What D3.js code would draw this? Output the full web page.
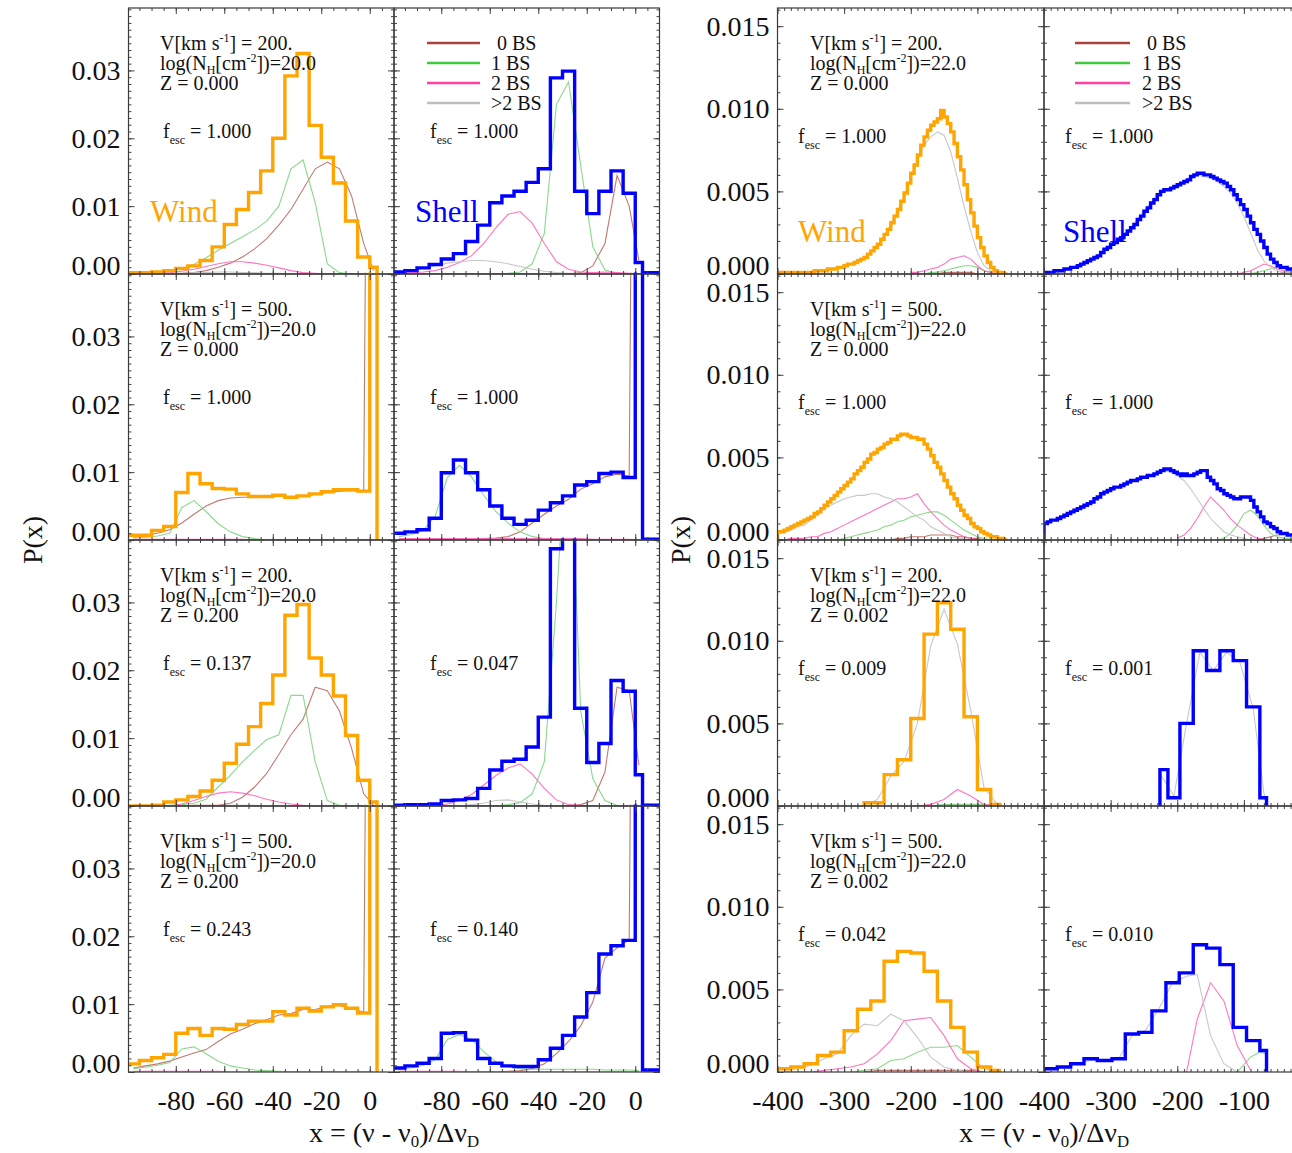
<!DOCTYPE html>
<html>
<head>
<meta charset="utf-8">
<script src="https://cdn.jsdelivr.net/npm/d3@7"></script>
<style>
html, body { margin: 0; padding: 0; background: #fff; }
svg { display: block; font-family: "Liberation Serif", "Times New Roman", serif; }
text { white-space: pre; }
</style>
</head>
<body>
<svg id="chart" width="1292" height="1153"></svg>
<script>
// ---------- bin grids ----------
// left block (log N_H = 20): 5-unit bins, last narrow bin holds the line-centre peak
const leftEdges = [-100,-95,-90,-85,-80,-75,-70,-65,-60,-55,-50,-45,-40,-35,-30,-25,-20,-15,-10,-5,0,3,10];
const leftCentres = [-97.5,-92.5,-87.5,-82.5,-77.5,-72.5,-67.5,-62.5,-57.5,-52.5,-47.5,-42.5,-37.5,-32.5,-27.5,-22.5,-17.5,-12.5,-7.5,-2.5,1.5];
// right block (log N_H = 22), fine binning for the Z = 0 runs
const fineEdges = d3.range(-400, 1, 5);
const fineX = d3.range(-400, 1, 10);

// ---------- row A: V=200, logN=20, Z=0 ----------
const windA = [0.0002,0.0002,0.0003,0.0005,0.0008,0.0012,0.0020,0.0040,0.0073,0.0095,0.0120,0.0152,0.0200,0.0292,0.0325,0.0219,0.0172,0.0134,0.0078,0.0025,0.0010];
const windA_bs0 = [0,0,0,0,0.0001,0.0002,0.0005,0.0010,0.0016,0.0025,0.0037,0.0052,0.0072,0.0095,0.0125,0.0155,0.0165,0.0155,0.0115,0.0045,0.0005];
const windA_bs1 = [0,0.0001,0.0002,0.0004,0.0008,0.0014,0.0024,0.0035,0.0045,0.0055,0.0065,0.0078,0.0100,0.0155,0.0168,0.0105,0.0015,0.0002,0,0,0];
const windA_bs2 = [0,0,0.0001,0.0002,0.0004,0.0007,0.0011,0.0015,0.0018,0.0018,0.0016,0.0013,0.0009,0.0005,0.0002,0.0001,0,0,0,0,0];
const windA_bs3 = [0,0,0,0.0001,0.0001,0.0002,0.0002,0.0003,0.0003,0.0002,0.0002,0.0001,0.0001,0,0,0,0,0,0,0,0];
const shellA = [0.0003,0.0005,0.0009,0.0014,0.0022,0.0030,0.0048,0.0072,0.0105,0.0115,0.0122,0.0135,0.0155,0.0289,0.0299,0.0122,0.0089,0.0122,0.0152,0.0119,0.0017,0.0002];
const shellA_bs0 = [0,0,0,0,0,0,0,0,0,0,0,0,0,0,0,0.0002,0.0012,0.0045,0.0145,0.0100,0.0020];
const shellA_bs1 = [0,0,0,0,0,0,0,0,0,0.0001,0.0003,0.0015,0.0060,0.0250,0.0283,0.0160,0.0040,0.0006,0.0001,0,0];
const shellA_bs2 = [0.0001,0.0002,0.0003,0.0005,0.0010,0.0017,0.0027,0.0045,0.0068,0.0088,0.0092,0.0075,0.0045,0.0018,0.0007,0.0003,0.0002,0.0003,0.0002,0.0001,0];
const shellA_bs3 = [0.0003,0.0005,0.0008,0.0012,0.0016,0.0018,0.0020,0.0020,0.0018,0.0015,0.0011,0.0007,0.0004,0.0002,0.0001,0.0001,0,0,0,0,0];

// ---------- row B: V=500, logN=20, Z=0 ----------
const windB = [0.0007,0.0007,0.0014,0.0020,0.0070,0.0098,0.0083,0.0076,0.0075,0.0068,0.0064,0.0064,0.0066,0.0063,0.0065,0.0068,0.0071,0.0074,0.0074,0.0072,0.2000];
const windB_bs0 = [0.0004,0.0007,0.0010,0.0015,0.0025,0.0038,0.0050,0.0058,0.0062,0.0063,0.0063,0.0063,0.0065,0.0063,0.0065,0.0067,0.0070,0.0072,0.0073,0.0071,0.2000];
const windB_bs1 = [0.0003,0.0004,0.0006,0.0010,0.0048,0.0058,0.0042,0.0024,0.0012,0.0005,0.0002,0,0,0,0,0,0,0,0,0,0];
const windB_bs2 = [0.0001,0.0001,0.0001,0.0001,0.0001,0.0001,0.0001,0.0001,0.0001,0.0001,0,0,0,0,0,0,0,0,0,0,0];
const windB_bs3 = [0,0,0,0,0,0,0,0,0,0,0,0,0,0,0,0,0,0,0,0,0];
const shellB = [0.0010,0.0012,0.0015,0.0032,0.0099,0.0118,0.0099,0.0074,0.0050,0.0032,0.0023,0.0029,0.0044,0.0055,0.0065,0.0081,0.0086,0.0098,0.0100,0.0092,0.2000,0.0001];
const shellB_bs0 = [0.0001,0.0001,0.0001,0.0001,0.0001,0.0001,0.0001,0.0002,0.0003,0.0005,0.0012,0.0025,0.0038,0.0050,0.0060,0.0075,0.0083,0.0093,0.0097,0.0094,0.2000];
const shellB_bs1 = [0.0005,0.0008,0.0014,0.0035,0.0092,0.0110,0.0093,0.0066,0.0042,0.0025,0.0012,0.0005,0.0002,0.0001,0,0,0,0,0,0,0];
const shellB_bs2 = [0.0002,0.0002,0.0002,0.0002,0.0002,0.0002,0.0002,0.0002,0.0002,0.0002,0.0002,0.0002,0.0002,0.0002,0.0002,0.0002,0.0001,0.0001,0.0001,0.0001,0];
const shellB_bs3 = [0,0,0,0,0,0,0,0,0,0,0,0,0,0,0,0,0,0,0,0,0];

// ---------- row C: V=200, logN=20, Z=0.2 ----------
const windC = [0,0,0.0001,0.0006,0.0009,0.0014,0.0022,0.0038,0.0063,0.0091,0.0117,0.0151,0.0193,0.0281,0.0297,0.0218,0.0193,0.0162,0.0104,0.0038,0.0006];
const windC_bs0 = [0,0,0,0,0,0.0001,0.0001,0.0001,0.0004,0.0013,0.0028,0.0048,0.0076,0.0105,0.0128,0.0175,0.0170,0.0140,0.0085,0.0018,0.0001];
const windC_bs1 = [0,0,0,0.0001,0.0002,0.0004,0.0010,0.0028,0.0045,0.0065,0.0082,0.0098,0.0105,0.0163,0.0163,0.0065,0.0008,0.0001,0,0,0];
const windC_bs2 = [0,0,0,0,0.0003,0.0008,0.0014,0.0019,0.0021,0.0019,0.0015,0.0010,0.0006,0.0003,0.0001,0,0,0,0,0,0];
const windC_bs3 = [0,0,0,0,0,0,0,0,0.0001,0.0001,0.0001,0,0,0,0,0,0,0,0,0,0];
const shellC = [0.0001,0.0002,0.0002,0.0003,0.0008,0.0009,0.0011,0.0026,0.0053,0.0066,0.0069,0.0087,0.0131,0.0379,0.0600,0.0144,0.0064,0.0092,0.0185,0.0169,0.0046,0.0001];
const shellC_bs0 = [0,0,0,0,0,0,0,0,0,0,0,0,0,0,0,0.0002,0.0008,0.0050,0.0175,0.0170,0.0060];
const shellC_bs1 = [0,0,0,0,0,0,0,0,0,0.0002,0.0005,0.0018,0.0065,0.0300,0.0600,0.0140,0.0040,0.0008,0.0001,0,0];
const shellC_bs2 = [0,0,0,0,0.0003,0.0008,0.0017,0.0031,0.0045,0.0056,0.0062,0.0047,0.0026,0.0009,0.0002,0.0001,0,0,0,0,0];
const shellC_bs3 = [0,0,0,0,0,0,0.0002,0.0004,0.0008,0.0009,0.0006,0.0003,0.0001,0,0,0,0,0,0,0,0];

// ---------- row D: V=500, logN=20, Z=0.2 ----------
const windD = [0.0012,0.0017,0.0021,0.0026,0.0057,0.0064,0.0054,0.0064,0.0063,0.0070,0.0075,0.0075,0.0089,0.0084,0.0094,0.0090,0.0096,0.0099,0.0094,0.0087,0.2000];
const windD_bs0 = [0.0006,0.0009,0.0012,0.0016,0.0022,0.0028,0.0033,0.0045,0.0056,0.0063,0.0071,0.0077,0.0084,0.0086,0.0092,0.0092,0.0097,0.0098,0.0094,0.0088,0.2000];
const windD_bs1 = [0.0005,0.0007,0.0010,0.0014,0.0034,0.0037,0.0027,0.0016,0.0009,0.0006,0.0003,0.0002,0.0001,0,0,0,0,0,0,0,0];
const windD_bs2 = [0.0001,0.0001,0.0001,0.0001,0.0001,0.0001,0.0001,0.0001,0,0,0,0,0,0,0,0,0,0,0,0,0];
const windD_bs3 = [0,0,0,0,0,0,0,0,0,0,0,0,0,0,0,0,0,0,0,0,0];
const shellD = [0.0006,0.0009,0.0013,0.0020,0.0057,0.0058,0.0047,0.0020,0.0013,0.0009,0.0008,0.0008,0.0018,0.0035,0.0054,0.0081,0.0117,0.0174,0.0186,0.0194,0.2000,0.0003];
const shellD_bs0 = [0,0,0,0,0,0,0,0,0,0.0001,0.0002,0.0005,0.0012,0.0027,0.0045,0.0068,0.0103,0.0168,0.0183,0.0195,0.2000];
const shellD_bs1 = [0.0004,0.0006,0.0010,0.0018,0.0048,0.0055,0.0048,0.0030,0.0015,0.0008,0.0005,0.0004,0.0004,0.0004,0.0004,0.0004,0.0004,0.0003,0.0003,0.0003,0.0002];
const shellD_bs2 = [0.0001,0.0001,0.0001,0.0001,0.0001,0.0001,0,0,0,0,0,0,0,0,0,0,0,0,0,0,0];
const shellD_bs3 = [0,0,0,0,0,0,0,0,0,0,0,0,0,0,0,0,0,0,0,0,0];

// ---------- row E: V=200, logN=22, Z=0 ----------
const windE = [0.0001,0.0001,0.0001,0.0001,0.0001,0.0001,0.0001,0.0001,0.0001,0.0001,0.0001,
  0.0002,0.0002,0.0002,0.0002,0.0003,0.0003,0.0003,0.0004,0.0004,
  0.0005,0.0006,0.0006,0.0007,0.0008,0.0009,0.0010,0.0012,0.0014,0.0016,
  0.0018,0.0021,0.0024,0.0027,0.0031,0.0035,0.0039,0.0044,0.0049,0.0055,
  0.0061,0.0066,0.0072,0.0078,0.0083,0.0087,0.0090,0.0092,0.0094,0.0099,
  0.0095,0.0091,0.0086,0.0079,0.0071,0.0063,0.0054,0.0045,0.0037,0.0029,
  0.0022,0.0016,0.0011,0.0007,0.0004,0.0002,0.0001,0.0001,0.0000];
const windE_bs3 = [0.0001,0.0001,0.0001,0.0001,0.0001,0.0001,0.0002,0.0002,0.0003,0.0004,
  0.0005,0.0006,0.0008,0.0010,0.0013,0.0017,0.0023,0.0030,0.0038,0.0047,
  0.0058,0.0069,0.0078,0.0083,0.0086,0.0084,0.0074,0.0058,0.0041,0.0026,
  0.0013,0.0005,0.0002,0.0001,null,null,null,null,null,null,null];
const windE_bs2 = [null,null,null,null,null,null,null,null,null,null,
  null,null,null,null,null,null,null,null,null,null,
  0.0001,0.0001,0.0002,0.0003,0.0004,0.0006,0.0009,0.0010,0.0011,0.0009,
  0.0005,0.0002,0.0001,0,null,null,null,null,null,null,null];
const windE_bs1 = [null,null,null,null,null,null,null,null,null,null,
  null,null,null,null,null,null,null,null,null,null,
  0,0,0,0.0001,0.0001,0.0002,0.0003,0.0004,0.0005,0.0005,
  0.0004,0.0002,0.0001,0,null,null,null,null,null,null,null];
const windE_bs0 = [null,null,null,null,null,null,null,null,null,null,
  null,null,null,null,null,null,null,null,null,null,
  0,0,0,0,0,0.0001,0.0001,0.0001,0.0001,0.0001,
  0,0,0,0,null,null,null,null,null,null,null];
const shellE = [0.0001,0.0001,0.0001,0.0002,0.0002,0.0002,0.0003,0.0003,0.0004,0.0004,
  0.0005,0.0006,0.0007,0.0008,0.0009,0.0010,0.0011,0.0013,0.0015,0.0016,
  0.0018,0.0019,0.0021,0.0022,0.0024,0.0026,0.0028,0.0030,0.0033,0.0035,
  0.0038,0.0040,0.0043,0.0045,0.0048,0.0050,0.0051,0.0051,0.0052,0.0053,
  0.0054,0.0055,0.0056,0.0057,0.0059,0.0060,0.0061,0.0061,0.0060,0.0060,
  0.0059,0.0058,0.0057,0.0056,0.0055,0.0053,0.0051,0.0048,0.0045,0.0042,
  0.0039,0.0035,0.0031,0.0027,0.0024,0.0020,0.0016,0.0012,0.0009,0.0007,
  0.0005,0.0004,0.0004,0.0003,0.0003,0.0002,0.0002,0.0001,0.0001,0.0001];
const shellE_bs3 = [0.0001,0.0001,0.0002,0.0003,0.0004,0.0005,0.0007,0.0009,0.0011,0.0015,
  0.0018,0.0021,0.0024,0.0028,0.0033,0.0038,0.0043,0.0048,0.0051,0.0052,
  0.0054,0.0056,0.0059,0.0060,0.0059,0.0058,0.0056,0.0053,0.0049,0.0043,
  0.0035,0.0025,0.0015,0.0008,0.0004,0.0002,0.0001,0.0001,0,0,0];
const shellE_bs2 = [null,null,null,null,null,null,null,null,null,null,
  null,null,null,null,null,null,null,null,null,null,
  null,null,null,null,null,null,null,null,0,0,
  0.0001,0.0002,0.0004,0.0006,0.0005,0.0003,0.0002,0.0001,0.0001,0,0];
const shellE_bs1 = [null,null,null,null,null,null,null,null,null,null,
  null,null,null,null,null,null,null,null,null,null,
  null,null,null,null,null,null,null,null,null,null,
  0,0,0.0001,0.0002,0.0003,0.0004,0.0003,0.0002,0.0001,0,0];
const shellE_bs0 = [null,null,null,null,null,null,null,null,null,null,
  null,null,null,null,null,null,null,null,null,null,
  null,null,null,null,null,null,null,null,null,null,
  0,0,0,0,0,0,0.0001,0.0001,0.0001,0,0];

// ---------- row F: V=500, logN=22, Z=0 ----------
const windF = [0.0005,0.0005,0.0006,0.0007,0.0008,0.0009,0.0010,0.0011,0.0012,0.0013,
  0.0014,0.0016,0.0017,0.0019,0.0021,0.0023,0.0025,0.0027,0.0029,0.0031,
  0.0033,0.0035,0.0037,0.0040,0.0042,0.0044,0.0047,0.0049,0.0052,0.0053,
  0.0055,0.0056,0.0058,0.0059,0.0061,0.0061,0.0063,0.0064,0.0064,0.0063,
  0.0062,0.0062,0.0061,0.0061,0.0058,0.0055,0.0051,0.0047,0.0044,0.0040,
  0.0036,0.0032,0.0028,0.0025,0.0021,0.0018,0.0015,0.0013,0.0010,0.0008,
  0.0007,0.0005,0.0004,0.0003,0.0002,0.0002,0.0001,0.0001,0.0000];
const windF_bs3 = [0.0004,0.0005,0.0006,0.0008,0.0009,0.0012,0.0015,0.0019,0.0021,0.0023,
  0.0025,0.0026,0.0027,0.0027,0.0028,0.0028,0.0026,0.0025,0.0023,0.0020,
  0.0017,0.0014,0.0012,0.0008,0.0006,0.0004,0.0002,0.0001,0.0001,0,
  null,null,null,null,null,null,null,null,null,null,null];
const windF_bs2 = [0,0,0.0001,0.0001,0.0001,0.0002,0.0002,0.0004,0.0005,0.0007,
  0.0009,0.0011,0.0013,0.0015,0.0017,0.0019,0.0021,0.0023,0.0025,0.0025,
  0.0026,0.0028,0.0022,0.0017,0.0013,0.0009,0.0006,0.0004,0.0002,0.0001,
  0,null,null,null,null,null,null,null,null,null,null];
const windF_bs1 = [0,0,0,0,0,0,0,0,0,0,
  0.0001,0.0002,0.0003,0.0004,0.0005,0.0006,0.0008,0.0009,0.0011,0.0012,
  0.0014,0.0015,0.0016,0.0017,0.0017,0.0015,0.0012,0.0009,0.0006,0.0004,
  0.0002,0.0001,0,null,null,null,null,null,null,null,null];
const windF_bs0 = [0,0,0,0,0,0,0,0,0,0,
  0,0,0,0,0,0,0,0,0.0001,0.0001,
  0.0002,0.0002,0.0002,0.0003,0.0003,0.0003,0.0003,0.0002,0.0002,0.0001,
  0.0001,0,null,null,null,null,null,null,null,null,null];
const shellF = [0.0010,0.0011,0.0012,0.0012,0.0013,0.0014,0.0015,0.0016,0.0017,0.0018,
  0.0019,0.0020,0.0021,0.0022,0.0023,0.0025,0.0026,0.0028,0.0029,0.0030,
  0.0031,0.0032,0.0032,0.0033,0.0034,0.0035,0.0036,0.0036,0.0037,0.0038,
  0.0038,0.0039,0.0039,0.0040,0.0041,0.0042,0.0043,0.0043,0.0042,0.0041,
  0.0040,0.0039,0.0040,0.0039,0.0039,0.0040,0.0041,0.0042,0.0042,0.0038,
  0.0036,0.0034,0.0031,0.0030,0.0028,0.0027,0.0026,0.0025,0.0025,0.0026,
  0.0026,0.0026,0.0024,0.0020,0.0017,0.0014,0.0011,0.0010,0.0008,0.0007,
  0.0005,0.0004,0.0004,0.0003,0.0003,0.0002,0.0002,0.0001,0.0001,0.0001];
const shellF_bs3 = [0.0010,0.0012,0.0013,0.0015,0.0017,0.0019,0.0021,0.0023,0.0026,0.0029,
  0.0031,0.0032,0.0034,0.0035,0.0037,0.0038,0.0039,0.0040,0.0042,0.0041,
  0.0039,0.0036,0.0031,0.0025,0.0019,0.0013,0.0009,0.0005,0.0003,0.0002,
  0.0001,0,null,null,null,null,null,null,null,null,null];
const shellF_bs2 = [null,null,null,null,null,null,null,null,null,null,
  null,null,null,null,null,null,null,null,null,null,
  0.0001,0.0003,0.0007,0.0013,0.0020,0.0026,0.0022,0.0018,0.0013,0.0009,
  0.0006,0.0003,0.0001,0,null,null,null,null,null,null,null];
const shellF_bs1 = [null,null,null,null,null,null,null,null,null,null,
  null,null,null,null,null,null,null,null,null,null,
  null,null,null,null,null,null,0,0.0001,0.0004,0.0009,
  0.0016,0.0018,0.0015,0.0009,0.0004,0.0002,0.0001,0.0001,0,0,0];
const shellF_bs0 = [null,null,null,null,null,null,null,null,null,null,
  null,null,null,null,null,null,null,null,null,null,
  null,null,null,null,null,null,null,null,null,null,
  null,null,0,0.0001,0.0002,0.0003,0.0003,0.0003,0.0002,0.0001,0];

// ---------- row G: V=200, logN=22, Z=0.002 ----------
const windGEdges = [-270,-240,-220,-200,-180,-160,-140,-120,-100,-80,-66];
const windG = [0.0002,0.0019,0.0028,0.0053,0.0104,0.0123,0.0107,0.0054,0.0010,0.0001];
const windGX = [-270,-250,-230,-210,-190,-170,-150,-130,-110,-90,-70];
const windG_bs3 = [0,0.0004,0.0018,0.0027,0.0050,0.0097,0.0119,0.0098,0.0058,0.0011,0.0001];
const windG_bs2 = [null,null,null,null,0,0.0001,0.0004,0.0010,0.0006,0.0001,0];
const windG_bs1 = [null,null,null,null,0,0,0.0001,0.0001,0.0001,0.0001,0];
const shellGEdges = [-226,-214,-196,-176,-156,-136,-116,-96,-76,-66];
const shellG = [0.0022,0.0005,0.0050,0.0094,0.0082,0.0094,0.0088,0.0060,0.0005];
const shellGX = [-225,-205,-186,-166,-146,-126,-106,-86,-70,-66];
const shellG_bs3 = [0.0019,0.0006,0.0050,0.0093,0.0082,0.0093,0.0087,0.0059,0.0008,0.0001];

// ---------- row H: V=500, logN=22, Z=0.002 ----------
const windHEdges = [-400,-380,-360,-340,-320,-300,-280,-260,-240,-220,-200,-180,-160,-140,-120,-100,-80,-67];
const windH = [0.0002,0.0003,0.0005,0.0010,0.0012,0.0025,0.0038,0.0043,0.0067,0.0073,0.0072,0.0061,0.0043,0.0027,0.0012,0.0003,0.0001];
const windHX = [-390,-370,-350,-330,-310,-290,-270,-250,-230,-210,-190,-170,-150,-130,-110,-90,-70];
const windH_bs3 = [0.0001,0.0002,0.0004,0.0008,0.0011,0.0022,0.0029,0.0028,0.0035,0.0031,0.0021,0.0009,0.0003,0.0001,0,null,null];
const windH_bs2 = [0,0,0,0.0001,0.0002,0.0003,0.0005,0.0011,0.0019,0.0031,0.0032,0.0033,0.0022,0.0008,0.0002,0,null];
const windH_bs1 = [null,null,null,null,null,0,0.0001,0.0002,0.0007,0.0008,0.0012,0.0015,0.0015,0.0016,0.0009,0.0002,0];
const windH_bs0 = [null,null,null,null,null,null,0,0.0001,0.0001,0.0001,0.0001,0.0001,0.0001,0.0001,0.0001,0,null];
const shellHEdges = [-400,-380,-360,-340,-320,-298,-278,-258,-238,-217,-197,-176,-156,-136,-116,-96,-76,-66];
const shellH = [0.0002,0.0003,0.0005,0.0008,0.0007,0.0008,0.0023,0.0024,0.0037,0.0054,0.0060,0.0077,0.0075,0.0065,0.0027,0.0019,0.0013];
const shellHX = [-390,-370,-350,-330,-310,-288,-268,-248,-228,-207,-186,-170,-150,-130,-110,-90,-76,-68];
const shellH_bs3 = [0.0002,0.0003,0.0005,0.0007,0.0007,0.0008,0.0022,0.0025,0.0038,0.0054,0.0058,0.0059,0.0022,0.0005,0,null,null,null];
const shellH_bs2 = [null,null,null,null,null,null,null,null,null,null,0,0.0032,0.0054,0.0043,0.0016,0.0001,null,null];
const shellH_bs1 = [null,null,null,null,null,null,null,null,null,null,null,null,null,null,0,0.0009,0.0012,0.0011];

// ---------- labels ----------
const velocities = ["200.", "500.", "200.", "500."];
const leftLogN = "20.0", rightLogN = "22.0";
const leftZ = ["0.000", "0.000", "0.200", "0.200"];
const rightZ = ["0.000", "0.000", "0.002", "0.002"];
const leftFescWind = ["1.000", "1.000", "0.137", "0.243"];
const leftFescShell = ["1.000", "1.000", "0.047", "0.140"];
const rightFescWind = ["1.000", "1.000", "0.009", "0.042"];
const rightFescShell = ["1.000", "1.000", "0.001", "0.010"];
const legendLabels = ["0 BS", "1 BS", "2 BS", ">2 BS"];
const leftXTicks = [-80, -60, -40, -20, 0];
const rightXTicks = [-400, -300, -200, -100];
const leftYTicks = [0, 0.01, 0.02, 0.03];
const rightYTicks = [0, 0.005, 0.010, 0.015];

// ---------- styling ----------
const compColors = ["#bb6a62", "#7fd47f", "#ff66b8", "#c2c2c2"];
const legendColors = ["#a9433d", "#3fc93f", "#ff3fa3", "#bdbdbd"];
const windColor = "#ffa500", shellColor = "#0000ff";
const rowTops = [8, 274, 540, 806];
const rowH = 266;

const svg = d3.select("#chart");
const defs = svg.append("defs");

const blocks = [
  {
    x0: 128.5, w: 265.5, xDom: [-99.5, 10], yDom: [0, 0.0392],
    yTicks: leftYTicks, yFmt: d3.format(".2f"), yMinorStep: 0.001,
    xTicks: leftXTicks, xMinor: d3.range(-95, 10, 5),
    logN: leftLogN, Z: leftZ, fescW: leftFescWind, fescS: leftFescShell,
    textX: 31.5, fescX: [34.5, 36], fescY: 130, labelY: 214, labelX: [21.5, 21],
    legX: [33, 86, 97, 103],
    rows: [
      { wind: {e: leftEdges, v: windA, cx: leftCentres, c: [windA_bs0, windA_bs1, windA_bs2, windA_bs3]},
        shell: {e: leftEdges, v: shellA, cx: leftCentres, c: [shellA_bs0, shellA_bs1, shellA_bs2, shellA_bs3]} },
      { wind: {e: leftEdges, v: windB, cx: leftCentres, c: [windB_bs0, windB_bs1, windB_bs2, windB_bs3]},
        shell: {e: leftEdges, v: shellB, cx: leftCentres, c: [shellB_bs0, shellB_bs1, shellB_bs2, shellB_bs3]} },
      { wind: {e: leftEdges, v: windC, cx: leftCentres, c: [windC_bs0, windC_bs1, windC_bs2, windC_bs3]},
        shell: {e: leftEdges, v: shellC, cx: leftCentres, c: [shellC_bs0, shellC_bs1, shellC_bs2, shellC_bs3]} },
      { wind: {e: leftEdges, v: windD, cx: leftCentres, c: [windD_bs0, windD_bs1, windD_bs2, windD_bs3]},
        shell: {e: leftEdges, v: shellD, cx: leftCentres, c: [shellD_bs0, shellD_bs1, shellD_bs2, shellD_bs3]} }
    ]
  },
  {
    x0: 777.5, w: 266.5, xDom: [-400, 0], yDom: [0, 0.0161],
    yTicks: rightYTicks, yFmt: d3.format(".3f"), yMinorStep: 0.001,
    xTicks: rightXTicks, xMinor: d3.range(-390, 0, 10),
    logN: rightLogN, Z: rightZ, fescW: rightFescWind, fescS: rightFescShell,
    textX: 32.5, fescX: [20.5, 21], fescY: 135, labelY: 234, labelX: [20.5, 19],
    legX: [31, 86, 98, 103],
    rows: [
      { wind: {e: fineEdges, v: windE, cx: fineX, c: [windE_bs0, windE_bs1, windE_bs2, windE_bs3]},
        shell: {e: fineEdges, v: shellE, cx: fineX, c: [shellE_bs0, shellE_bs1, shellE_bs2, shellE_bs3]} },
      { wind: {e: fineEdges, v: windF, cx: fineX, c: [windF_bs0, windF_bs1, windF_bs2, windF_bs3]},
        shell: {e: fineEdges, v: shellF, cx: fineX, c: [shellF_bs0, shellF_bs1, shellF_bs2, shellF_bs3]} },
      { wind: {e: windGEdges, v: windG, cx: windGX, c: [null, windG_bs1, windG_bs2, windG_bs3]},
        shell: {e: shellGEdges, v: shellG, cx: shellGX, c: [null, null, null, shellG_bs3]} },
      { wind: {e: windHEdges, v: windH, cx: windHX, c: [windH_bs0, windH_bs1, windH_bs2, windH_bs3]},
        shell: {e: shellHEdges, v: shellH, cx: shellHX, c: [null, shellH_bs1, shellH_bs2, shellH_bs3]} }
    ]
  }
];

// text with raised / lowered pieces: parts = [[string, "sup"|"sub"|undefined], ...]
function richText(parent, x, y, parts, size, subShift) {
  const t = parent.append("text").attr("x", x).attr("y", y)
    .attr("font-size", size).attr("fill", "#111");
  let shift = 0;
  parts.forEach(([s, kind]) => {
    const target = kind === "sup" ? -0.40 * size : kind === "sub" ? (subShift || 0.22) * size : 0;
    const ts = t.append("tspan").text(s).attr("dy", target - shift);
    if (kind) ts.attr("font-size", size * 0.6);
    shift = target;
  });
  return t;
}

function stepPoints(edges, vals) {
  const pts = [[edges[0], 0]];
  vals.forEach((v, i) => pts.push([edges[i], v]));
  const n = vals.length;
  pts.push([edges[n], vals[n - 1]]);
  pts.push([edges[n], 0]);
  return pts;
}

let clipId = 0;
blocks.forEach((b, bi) => {
  b.rows.forEach((row, ri) => {
    const top = rowTops[ri];
    [["wind", 0], ["shell", 1]].forEach(([kind, ci]) => {
      const left = b.x0 + ci * b.w;
      const x = d3.scaleLinear().domain(b.xDom).range([left, left + b.w]);
      const y = d3.scaleLinear().domain(b.yDom).range([top + rowH, top]);
      const g = svg.append("g");
      const id = "clip" + (clipId++);
      defs.append("clipPath").attr("id", id).append("rect")
        .attr("x", left).attr("y", top - 1.5).attr("width", b.w).attr("height", rowH + 1.5);
      const plot = g.append("g").attr("clip-path", `url(#${id})`);
      const d = row[kind];

      // scattering-order components
      const line = d3.line().defined(p => p[1] !== null).x(p => x(p[0])).y(p => y(p[1]));
      d.c.forEach((arr, k) => {
        if (!arr) return;
        plot.append("path")
          .attr("d", line(d.cx.map((cx, i) => [cx, arr[i] === undefined ? null : arr[i]])))
          .attr("fill", "none").attr("stroke", compColors[k])
          .attr("stroke-width", 1.1).attr("stroke-opacity", 0.9);
      });

      // total histogram
      const step = d3.line().curve(d3.curveStepAfter).x(p => x(p[0])).y(p => y(p[1]));
      plot.append("path").attr("d", step(stepPoints(d.e, d.v)))
        .attr("fill", "none")
        .attr("stroke", kind === "wind" ? windColor : shellColor)
        .attr("stroke-width", 3.4).attr("stroke-linejoin", "miter");

      // ticks on all four sides, pointing inwards
      const yMinor = d3.range(0, b.yDom[1], b.yMinorStep);
      const addAxis = (axis, tx, ty) => {
        const a = g.append("g").attr("transform", `translate(${tx},${ty})`).call(axis);
        a.select(".domain").remove();
        a.attr("color", "#444").attr("font-family", null).attr("font-size", 28);
        a.selectAll("text").attr("fill", "#111");
        return a;
      };
      const showY = ci === 0;
      const ay = addAxis(d3.axisLeft(y).tickValues(b.yTicks).tickSize(-6).tickPadding(8)
        .tickFormat(showY ? b.yFmt : () => ""), left, 0);
      ay.selectAll(".tick").filter(v => v === 0).select("text").attr("dy", "0.03em");
      addAxis(d3.axisLeft(y).tickValues(yMinor).tickSize(-3).tickFormat(() => ""), left, 0);
      addAxis(d3.axisRight(y).tickValues(b.yTicks).tickSize(-6).tickFormat(() => ""), left + b.w, 0);
      addAxis(d3.axisRight(y).tickValues(yMinor).tickSize(-3).tickFormat(() => ""), left + b.w, 0);
      const showX = ri === 3;
      addAxis(d3.axisBottom(x).tickValues(b.xTicks.concat(bi === 1 ? [0] : [])).tickSize(-6).tickPadding(18)
        .tickFormat(showX ? (v => (b.xTicks.includes(v) ? String(v) : "")) : () => ""), 0, top + rowH);
      addAxis(d3.axisBottom(x).tickValues(b.xMinor).tickSize(-3).tickFormat(() => ""), 0, top + rowH);
      addAxis(d3.axisTop(x).tickValues(b.xTicks).tickSize(-6).tickFormat(() => ""), 0, top);
      addAxis(d3.axisTop(x).tickValues(b.xMinor).tickSize(-3).tickFormat(() => ""), 0, top);

      // frame
      g.append("rect").attr("x", left).attr("y", top).attr("width", b.w).attr("height", rowH)
        .attr("fill", "none").attr("stroke", "#3a3a3a").attr("stroke-width", 1.2);

      // annotations
      if (kind === "wind") {
        const tx = left + b.textX;
        richText(g, tx, top + 42, [["V[km s"], ["-1", "sup"], ["] = " + velocities[ri]]], 20);
        richText(g, tx, top + 62, [["log(N"], ["H", "sub"], ["[cm"], ["-2", "sup"], ["])=" + b.logN]], 20);
        richText(g, tx, top + 82, [["Z = " + b.Z[ri]]], 20);
      }
      const fesc = kind === "wind" ? b.fescW[ri] : b.fescS[ri];
      richText(g, left + b.fescX[ci], top + b.fescY, [["f"], ["esc", "sub"], [" = " + fesc]], 20, 0.3);
      if (ri === 0) {
        g.append("text").attr("x", left + b.labelX[ci]).attr("y", top + b.labelY)
          .attr("font-size", 31).attr("fill", kind === "wind" ? windColor : shellColor)
          .text(kind === "wind" ? "Wind" : "Shell");
        if (kind === "shell") {
          legendLabels.forEach((lab, k) => {
            const ly = top + 35 + 20 * k;
            g.append("line").attr("x1", left + b.legX[0]).attr("x2", left + b.legX[1])
              .attr("y1", ly).attr("y2", ly)
              .attr("stroke", legendColors[k]).attr("stroke-width", 2.4);
            g.append("text").attr("x", left + (k === 0 ? b.legX[3] : b.legX[2])).attr("y", ly + 7)
              .attr("font-size", 20).attr("fill", "#111").text(lab);
          });
        }
      }
    });
  });

  // axis titles
  const cx = b.x0 + b.w;
  const xt = richText(svg, cx, 1142, [["x = (ν - ν"], ["0", "sub"], [")/Δν"], ["D", "sub"]], 28, 0.18);
  xt.attr("text-anchor", "middle");
  const yx = bi === 0 ? 42 : 690;
  svg.append("text").attr("transform", `translate(${yx},540) rotate(-90)`)
    .attr("text-anchor", "middle").attr("font-size", 28).attr("fill", "#111").text("P(x)");
});
</script>
</body>
</html>
